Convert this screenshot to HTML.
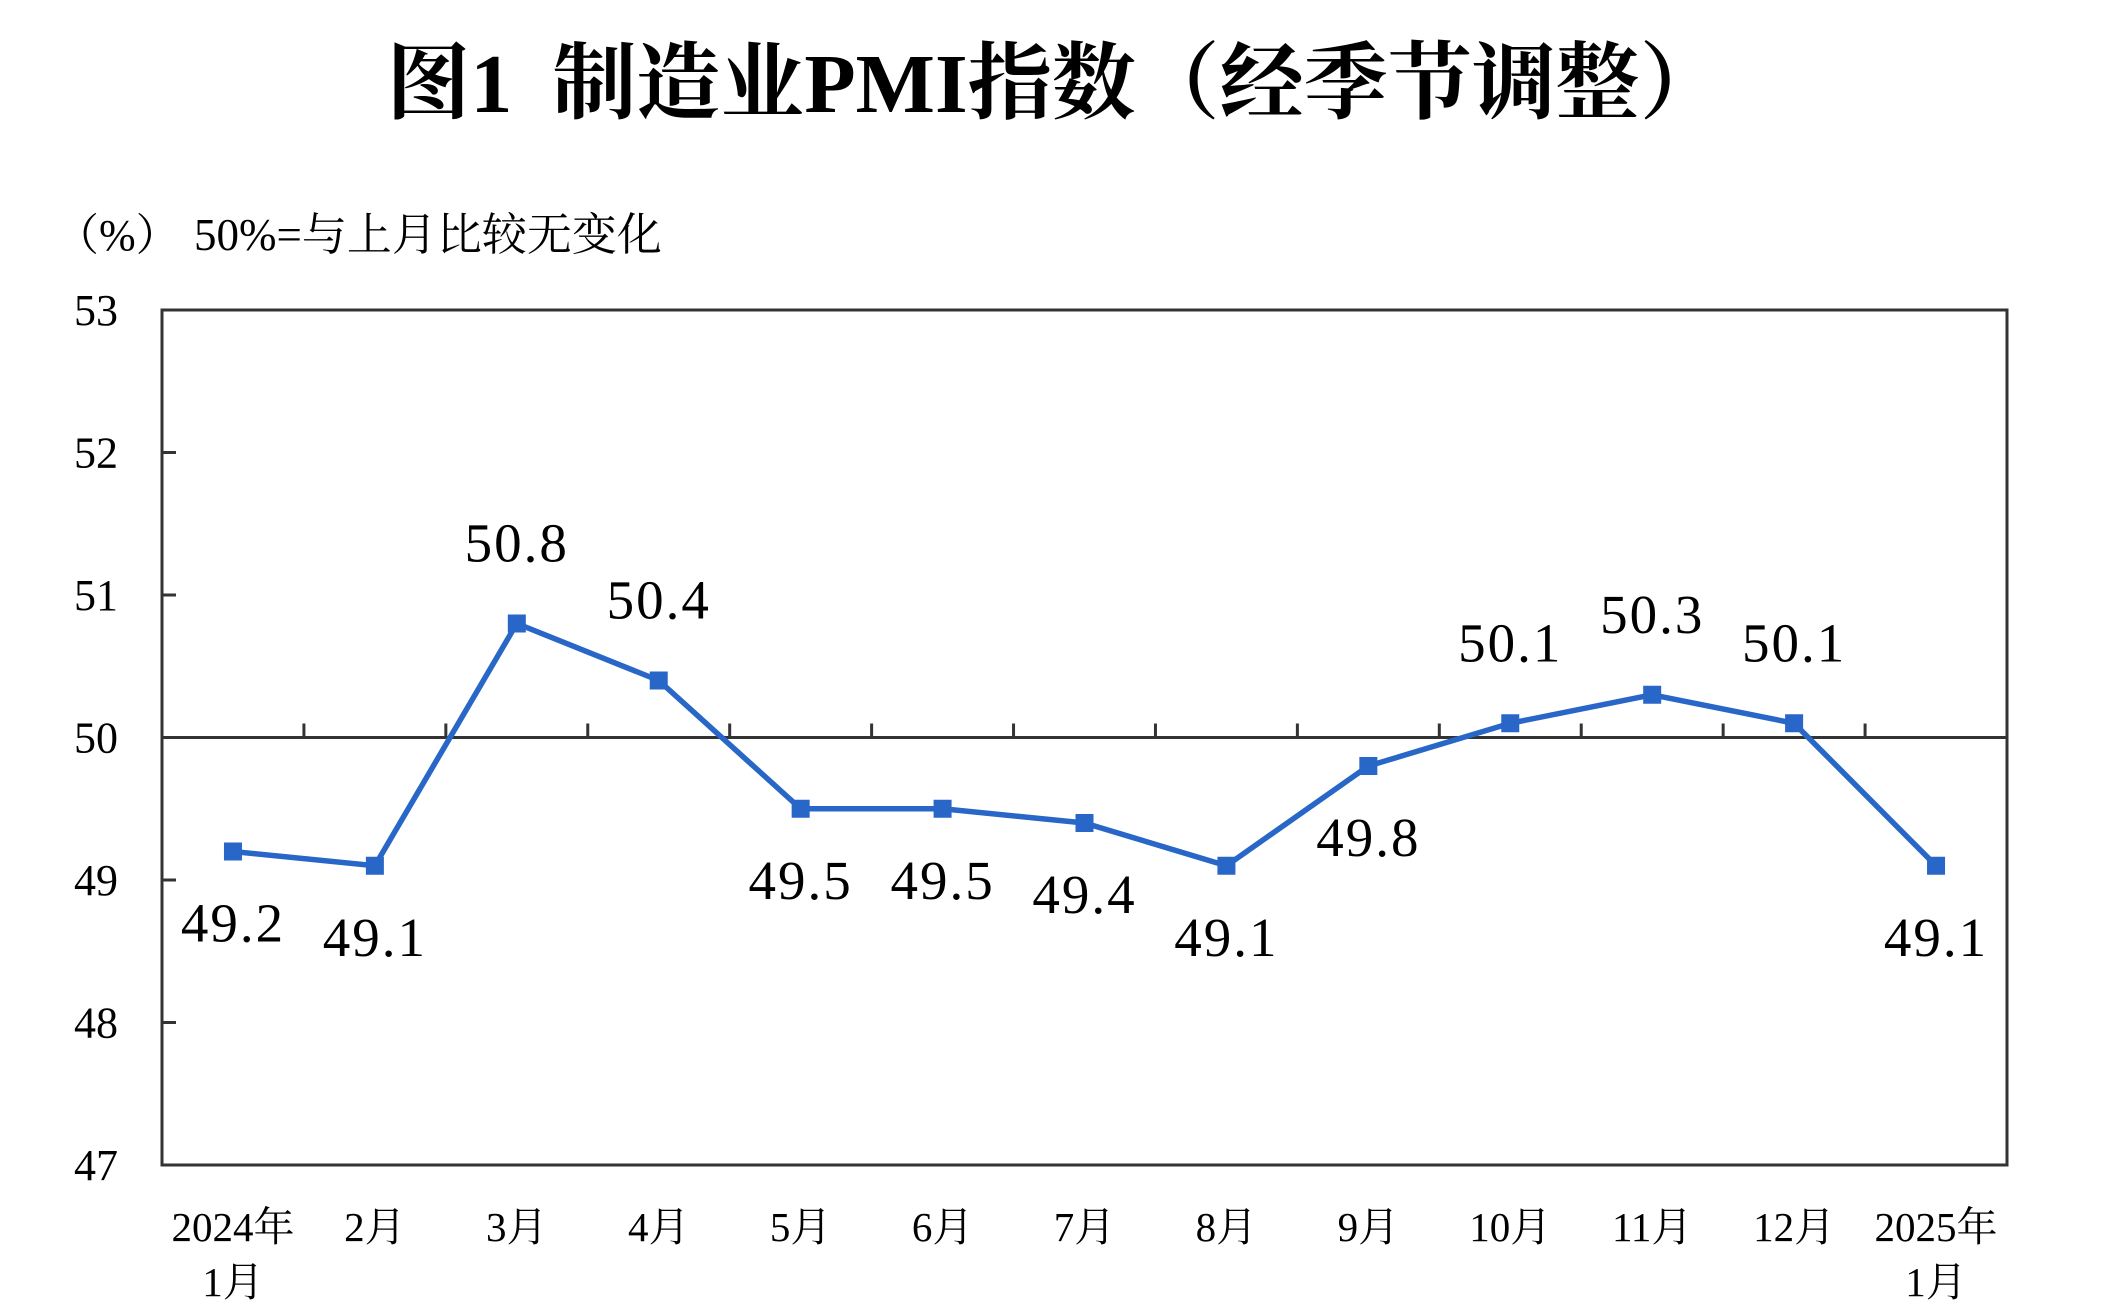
<!DOCTYPE html>
<html><head><meta charset="utf-8"><style>
html,body{margin:0;padding:0;background:#fff;}
svg{display:block;font-family:"Liberation Serif","Noto Serif CJK SC",serif;}
</style></head><body>
<svg id="chart" width="2104" height="1314" viewBox="0 0 2104 1314" xmlns="http://www.w3.org/2000/svg">
<text x="1055" y="112" text-anchor="middle" font-size="84" font-weight="bold" font-family="'Liberation Serif','Noto Serif CJK SC',serif">图1<tspan dx="40">制造业PMI指数（经季节调整）</tspan></text>
<text x="55" y="250" font-size="44">（%）</text>
<text x="194" y="250" font-size="45">50%=与上月比较无变化</text>
<g id="plot"></g>
</svg>
<script>
const categories=[["2024年","1月"],["2月"],["3月"],["4月"],["5月"],["6月"],["7月"],["8月"],["9月"],["10月"],["11月"],["12月"],["2025年","1月"]];
const values=[49.2,49.1,50.8,50.4,49.5,49.5,49.4,49.1,49.8,50.1,50.3,50.1,49.1];
const valueLabels=["49.2","49.1","50.8","50.4","49.5","49.5","49.4","49.1","49.8","50.1","50.3","50.1","49.1"];
const yTicks=[47,48,49,50,51,52,53];
const yMin=47,yMax=53,refValue=50;
const L=162,R=2007,T=310,B=1165;
const NS="http://www.w3.org/2000/svg";
const g=document.getElementById('plot');
const band=(R-L)/categories.length;
const x=i=>L+band*(i+0.5);
const y=v=>B-(v-yMin)/(yMax-yMin)*(B-T);
function mk(tag,attrs){const e=document.createElementNS(NS,tag);for(const k in attrs)e.setAttribute(k,attrs[k]);g.appendChild(e);return e;}
let fr=mk('rect',{x:L,y:T,width:R-L,height:B-T,fill:'none',stroke:'#333',"stroke-width":3});


yTicks.forEach(t=>{
  let tk=mk('line',{x1:L,x2:L+14,y1:y(t),y2:y(t),stroke:'#333',"stroke-width":3});
  
  
  let tl=mk('text',{x:L-44,y:y(t)+15,"text-anchor":"end","font-size":44});
  tl.textContent=t;
  
  
});
let ref=mk('line',{x1:L,x2:R,y1:y(refValue),y2:y(refValue),stroke:'#333',"stroke-width":3});


for(let i=1;i<categories.length;i++){
  let tk=mk('line',{x1:L+band*i,x2:L+band*i,y1:y(refValue),y2:y(refValue)-14,stroke:'#333',"stroke-width":3});
  
  
}
categories.forEach((c,i)=>{
  c.forEach((line,j)=>{
    let t=mk('text',{x:x(i),y:B+76+j*55,"text-anchor":"middle","font-size":41});
    t.textContent=line;
    
    
  });
});
let pl=mk('polyline',{points:values.map((v,i)=>x(i)+','+y(v)).join(' '),fill:'none',stroke:'#2866c8',"stroke-width":5.5,"stroke-linejoin":"miter"});


values.forEach((v,i)=>{
  let m=mk('rect',{x:x(i)-9,y:y(v)-9,width:18,height:18,fill:'#2866c8'});
  
  
  const above=v>refValue;
  let t=mk('text',{x:x(i),y:above?y(v)-62:y(v)+90,"text-anchor":"middle","font-size":55,"letter-spacing":"2"});
  t.textContent=valueLabels[i];
  
  
});
</script>
</body></html>
